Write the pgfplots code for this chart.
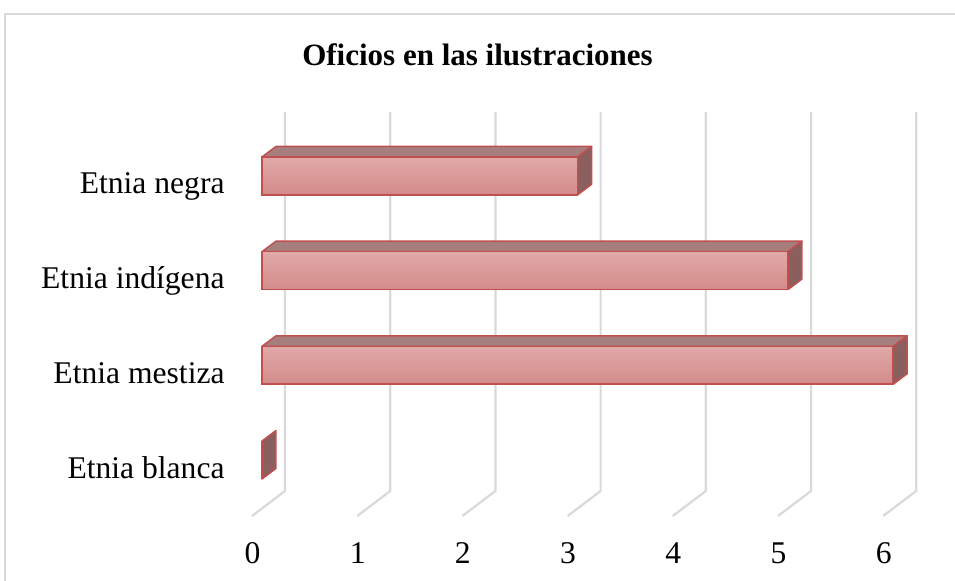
\documentclass[border=0pt]{standalone}
\usepackage{pgfplots}
\pgfplotsset{compat=1.18}
\usepackage{fontspec}
\setmainfont{Liberation Serif}
\definecolor{barred}{HTML}{C0504D}
\definecolor{fronttop}{HTML}{E0A9A8}
\definecolor{frontbot}{HTML}{D38B8A}
\definecolor{topface}{HTML}{A67E7E}
\definecolor{sideface}{HTML}{8C5F5F}
\definecolor{gridc}{HTML}{D9D9D9}
\begin{document}
\fontsize{15.8}{19}\selectfont
\begin{tikzpicture}[x=1pt,y=1pt]
\useasboundingbox (0,0) rectangle (477.5,290);
\draw[gridc, line width=0.75pt] (2.5,-10) -- (2.5,283) -- (490,283);
\node[anchor=base, font=\bfseries\fontsize{15.5}{19}\selectfont] at (238.75,257.5) {Oficios en las ilustraciones};
\begin{axis}[at={(120.48pt,26.85pt)}, anchor=south west, scale only axis,
  width=352.42pt, height=213.08pt,
  xmin=-0.2, xmax=6.5, ymin=-0.7, ymax=3.8,
  axis line style={draw=none}, tick style={draw=none}, no marks, clip=false,
  xtick={0,...,6}, ytick={0,1,2,3},
  yticklabels={Etnia blanca, Etnia mestiza, Etnia indígena, Etnia negra},
  xticklabel style={anchor=base, inner sep=0pt, yshift=-18.5pt, xshift=-4.75pt},
  yticklabel style={anchor=base east, inner sep=0pt, yshift=-9pt, xshift=-8pt},
  ticklabel style={font=\fontsize{15.8}{19}\selectfont},
  /pgf/number format/assume math mode=true,
  front/.style={xbar, bar width=0.4, bar shift=0pt, draw=barred, line width=0.75pt, top color=fronttop, bottom color=frontbot},
  face/.style={draw=barred, line width=0.75pt, line join=round}]
\pgfplotsinvokeforeach{0,...,6}{
  \draw[gridc, line width=1.1pt] (axis cs:{#1-0.095},-0.591) -- (axis cs:{#1+0.219},-0.327) -- (axis cs:{#1+0.219},3.675);
}
% top faces
\addplot[face, fill=topface] coordinates {(0,3.2) (3,3.2) (3.133,3.311) (0.133,3.311)} -- cycle;
\addplot[face, fill=topface] coordinates {(0,2.2) (5,2.2) (5.133,2.311) (0.133,2.311)} -- cycle;
\addplot[face, fill=topface] coordinates {(0,1.2) (6,1.2) (6.133,1.311) (0.133,1.311)} -- cycle;
% side faces
\addplot[face, fill=sideface] coordinates {(3,2.8) (3.133,2.911) (3.133,3.311) (3,3.2)} -- cycle;
\addplot[face, fill=sideface] coordinates {(5,1.8) (5.133,1.911) (5.133,2.311) (5,2.2)} -- cycle;
\addplot[face, fill=sideface] coordinates {(6,0.8) (6.133,0.911) (6.133,1.311) (6,1.2)} -- cycle;
\addplot[face, fill=sideface] coordinates {(0,-0.2) (0.133,-0.089) (0.133,0.311) (0,0.2)} -- cycle;
% front faces
\addplot[front] coordinates {(3,3)};
\addplot[front] coordinates {(5,2)};
\addplot[front] coordinates {(6,1)};
\addplot[xbar, bar width=0.4, bar shift=0pt, draw=barred, line width=0.75pt, fill=frontbot] coordinates {(0,0)};
\end{axis}
\end{tikzpicture}
\end{document}
